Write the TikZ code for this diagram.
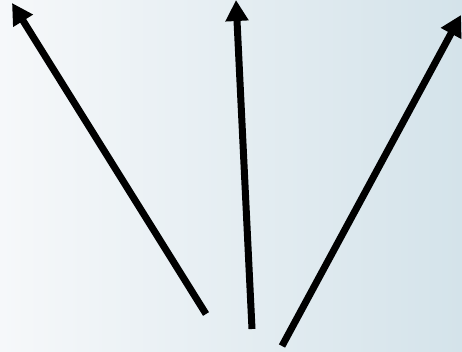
\documentclass[tikz,border=0pt]{standalone}
\usepackage{tikz}
\usetikzlibrary{arrows.meta}
\definecolor{bgLeft}{HTML}{F6F8FA}
\definecolor{bgRight}{HTML}{D4E3EA}

\tikzset{
  bigarrow/.style={line width=7pt, -{Triangle[length=21pt, width=22pt]}, black}
}

\begin{document}
\begin{tikzpicture}[x=1pt, y=-1pt]
    % background
    \shade[left color=bgLeft, right color=bgRight] (0,0) rectangle (462,352);
    \useasboundingbox (0,0) rectangle (462,352);
    % ends of the arrows
    \coordinate (tailL) at (206,314);
    \coordinate (tipL) at (12,3);
    \coordinate (tailM) at (252,329);
    \coordinate (tipM) at (236,0);
    \coordinate (tailR) at (282,346);
    \coordinate (tipR) at (461,15);
    \draw[bigarrow] (tailL) -- (tipL);
    \draw[bigarrow] (tailM) -- (tipM);
    \draw[bigarrow] (tailR) -- (tipR);
  \end{tikzpicture}
\end{document}
